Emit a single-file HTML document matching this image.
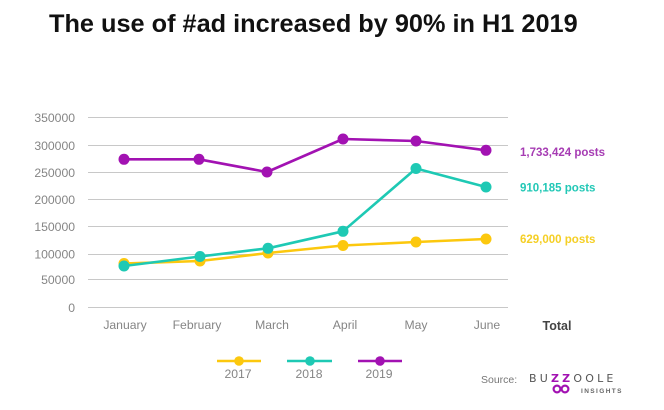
<!DOCTYPE html>
<html>
<head>
<meta charset="utf-8">
<style>
  html, body { margin:0; padding:0; background:#ffffff; }
  body { width:664px; height:410px; overflow:hidden; position:relative; }
  svg { position:absolute; left:0; top:0; }
</style>
</head>
<body>
<svg width="664" height="410" viewBox="0 0 664 410" xmlns="http://www.w3.org/2000/svg">
  <rect x="0" y="0" width="664" height="410" fill="#ffffff"/>
  <!-- Title -->
  <text x="49" y="32" font-family="Liberation Sans, Arial, sans-serif" font-weight="bold" font-size="25.3" fill="#111111">The use of #ad increased by 90% in H1 2019</text>

  <!-- Gridlines -->
  <g stroke="#c8c8c8" stroke-width="1">
    <line x1="88" y1="117.5" x2="508" y2="117.5"/>
    <line x1="88" y1="145.5" x2="508" y2="145.5"/>
    <line x1="88" y1="172.5" x2="508" y2="172.5"/>
    <line x1="88" y1="199.5" x2="508" y2="199.5"/>
    <line x1="88" y1="226.5" x2="508" y2="226.5"/>
    <line x1="88" y1="254.5" x2="508" y2="254.5"/>
    <line x1="88" y1="279.5" x2="508" y2="279.5"/>
    <line x1="88" y1="307.5" x2="508" y2="307.5"/>
  </g>

  <!-- Y labels -->
  <g font-family="Liberation Sans, Arial, sans-serif" font-size="12.2" fill="#858585" text-anchor="end">
    <text x="75" y="122">350000</text>
    <text x="75" y="150">300000</text>
    <text x="75" y="177">250000</text>
    <text x="75" y="204">200000</text>
    <text x="75" y="231">150000</text>
    <text x="75" y="258.5">100000</text>
    <text x="75" y="284">50000</text>
    <text x="75" y="312">0</text>
  </g>

  <!-- X labels -->
  <g font-family="Liberation Sans, Arial, sans-serif" font-size="12.2" fill="#858585" text-anchor="middle">
    <text x="125" y="329">January</text>
    <text x="197" y="329">February</text>
    <text x="272" y="329">March</text>
    <text x="345" y="329">April</text>
    <text x="416" y="329">May</text>
    <text x="487" y="329">June</text>
  </g>
  <text x="557" y="330" font-family="Liberation Sans, Arial, sans-serif" font-weight="bold" font-size="12.5" fill="#444444" text-anchor="middle">Total</text>

  <!-- 2017 yellow -->
  <g>
    <polyline points="124,263.5 200,261 268,253 343,245.5 416,242 486,239" fill="none" stroke="#fcc80e" stroke-width="2.6" stroke-linejoin="round"/>
    <g fill="#fcc80e">
      <circle cx="124" cy="263.5" r="5.5"/>
      <circle cx="200" cy="261" r="5.5"/>
      <circle cx="268" cy="253" r="5.5"/>
      <circle cx="343" cy="245.5" r="5.5"/>
      <circle cx="416" cy="242" r="5.5"/>
      <circle cx="486" cy="239" r="5.5"/>
    </g>
  </g>

  <!-- 2018 teal -->
  <g>
    <polyline points="124,266 200,256.5 268,248.3 343,231.3 416,168.5 486,187" fill="none" stroke="#1ec9b4" stroke-width="2.6" stroke-linejoin="round"/>
    <g fill="#1ec9b4">
      <circle cx="124" cy="266" r="5.5"/>
      <circle cx="200" cy="256.5" r="5.5"/>
      <circle cx="268" cy="248.3" r="5.5"/>
      <circle cx="343" cy="231.3" r="5.5"/>
      <circle cx="416" cy="168.5" r="5.5"/>
      <circle cx="486" cy="187" r="5.5"/>
    </g>
  </g>

  <!-- 2019 purple -->
  <g>
    <polyline points="124,159.3 199,159.3 267,172 343,139 416,141 486,150.3" fill="none" stroke="#a212b2" stroke-width="2.6" stroke-linejoin="round"/>
    <g fill="#a212b2">
      <circle cx="124" cy="159.3" r="5.5"/>
      <circle cx="199" cy="159.3" r="5.5"/>
      <circle cx="267" cy="172" r="5.5"/>
      <circle cx="343" cy="139" r="5.5"/>
      <circle cx="416" cy="141" r="5.5"/>
      <circle cx="486" cy="150.3" r="5.5"/>
    </g>
  </g>

  <!-- Totals -->
  <g font-family="Liberation Sans, Arial, sans-serif" font-weight="bold" font-size="11.5">
    <text x="520" y="155.8" fill="#a63cb3">1,733,424 posts</text>
    <text x="520" y="191.4" fill="#22c8b6">910,185 posts</text>
    <text x="520" y="243" fill="#f5cf25">629,000 posts</text>
  </g>

  <!-- Legend -->
  <g stroke-width="2.6">
    <line x1="217" y1="361" x2="261" y2="361" stroke="#fcc80e"/>
    <line x1="287" y1="361" x2="332" y2="361" stroke="#1ec9b4"/>
    <line x1="358" y1="361" x2="402" y2="361" stroke="#a212b2"/>
  </g>
  <circle cx="239" cy="361" r="4.8" fill="#fcc80e"/>
  <circle cx="310" cy="361" r="4.8" fill="#1ec9b4"/>
  <circle cx="380" cy="361" r="4.8" fill="#a212b2"/>
  <g font-family="Liberation Sans, Arial, sans-serif" font-size="12.2" fill="#858585" text-anchor="middle">
    <text x="238" y="378">2017</text>
    <text x="309" y="378">2018</text>
    <text x="379" y="378">2019</text>
  </g>

  <!-- Source -->
  <text x="481" y="383" font-family="Liberation Sans, Arial, sans-serif" font-size="10.5" fill="#777777">Source:</text>
  <text x="529" y="382" font-family="DejaVu Sans, Liberation Sans, sans-serif" font-size="11" letter-spacing="3.2" fill="#555555">BU<tspan fill="#a212b2" font-weight="bold">ZZ</tspan>OOLE</text>
  <g fill="none" stroke="#a212b2" stroke-width="2.2">
    <circle cx="557" cy="389" r="3.4"/>
    <circle cx="565" cy="389" r="3.4"/>
  </g>
  <text x="581" y="393" font-family="Liberation Sans, Arial, sans-serif" font-weight="bold" font-size="6.5" letter-spacing="1.4" fill="#666666">INSIGHTS</text>
</svg>
</body>
</html>
